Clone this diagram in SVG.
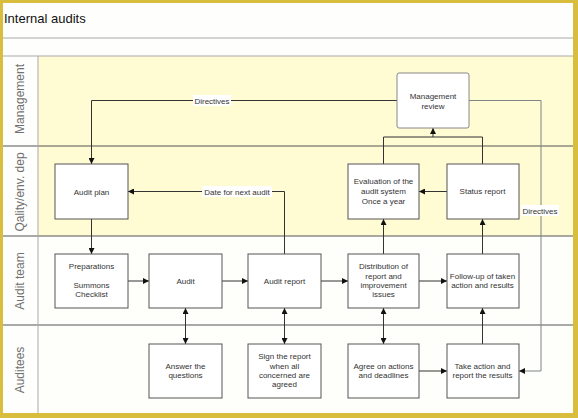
<svg xmlns="http://www.w3.org/2000/svg" width="578" height="418" viewBox="0 0 578 418">
<style>
.lanefill-y{fill:#fffbd3}
.lanefill-w{fill:#fefefa}
.sep{stroke:#555;stroke-width:1;fill:none}
.lsep{stroke:#aaa;stroke-width:1;fill:none}
.lanelabel{font-family:"Liberation Sans",Arial,sans-serif;font-size:12px;fill:#707070;text-anchor:middle}
.node rect{fill:#fff;stroke:#555;stroke-width:1}
.node text{font-family:"Liberation Sans",Arial,sans-serif;font-size:8px;fill:#333;text-anchor:middle}
.conn{stroke:#333;stroke-width:1;fill:none}
.conn2{stroke:#7d8585;stroke-width:1;fill:none}
.clabel{font-family:"Liberation Sans",Arial,sans-serif;font-size:8px;fill:#333;text-anchor:middle}
.lbg{fill:#fff}
</style>
<defs>
<marker id="arr" viewBox="0 0 6 6" refX="6" refY="3" markerWidth="6" markerHeight="6" markerUnits="userSpaceOnUse" orient="auto-start-reverse">
<path d="M0,0 L6,3 L0,6 z" fill="#111"/>
</marker>
</defs>
<rect x="0" y="0" width="578" height="418" fill="#d9bd3c"/>
<rect x="3" y="3" width="570" height="410" fill="#fefefc"/>
<text x="4" y="22.5" font-family="'Liberation Sans',Arial,sans-serif" font-size="13" fill="#111">Internal audits</text>
<g id="lanes">
<rect class="lanefill-y" x="38" y="56" width="535" height="90"/>
<rect class="lanefill-y" x="38" y="146" width="535" height="90"/>
<rect class="lanefill-w" x="38" y="236" width="535" height="89"/>
<rect class="lanefill-w" x="38" y="325" width="535" height="88"/>
<line class="lsep" x1="3" y1="38" x2="573" y2="38"/>
<line class="lsep" x1="3" y1="56" x2="573" y2="56"/>
<line class="sep" x1="3" y1="146" x2="573" y2="146"/>
<line class="sep" x1="3" y1="236" x2="573" y2="236"/>
<line class="sep" x1="3" y1="325" x2="573" y2="325"/>
<line class="lsep" x1="38" y1="56" x2="38" y2="413"/>
<text class="lanelabel" transform="translate(24,99) rotate(-90)">Management</text>
<text class="lanelabel" transform="translate(24,192) rotate(-90)">Qality/env. dep</text>
<text class="lanelabel" transform="translate(24,281) rotate(-90)">Audit team</text>
<text class="lanelabel" transform="translate(24,370) rotate(-90)">Auditees</text>
</g>
<g id="connectors">
<path class="conn" d="M397,100.5 H91.5 V164" marker-end="url(#arr)"/>
<path class="conn2" d="M469,100.5 H541 V371 H519" marker-end="url(#arr)"/>
<path class="conn" d="M383.5,164 V137 H482.5 V164"/>
<path class="conn" d="M433,137 V128" marker-end="url(#arr)"/>
<path class="conn" d="M447,191.5 H419" marker-end="url(#arr)"/>
<path class="conn" d="M284.5,254 V191.5 H128" marker-end="url(#arr)"/>
<path class="conn" d="M91.5,219 V254" marker-end="url(#arr)"/>
<path class="conn" d="M128,281 H149" marker-end="url(#arr)"/>
<path class="conn" d="M222,281 H248" marker-end="url(#arr)"/>
<path class="conn" d="M321,281 H348" marker-end="url(#arr)"/>
<path class="conn" d="M419,281 H447" marker-end="url(#arr)"/>
<path class="conn" d="M383.5,254 V219" marker-end="url(#arr)"/>
<path class="conn" d="M482.5,254 V219" marker-end="url(#arr)"/>
<path class="conn" d="M185.5,308 V344" marker-start="url(#arr)" marker-end="url(#arr)"/>
<path class="conn" d="M284.5,308 V344" marker-start="url(#arr)" marker-end="url(#arr)"/>
<path class="conn" d="M383.5,308 V344" marker-start="url(#arr)" marker-end="url(#arr)"/>
<path class="conn" d="M419,371 H447" marker-end="url(#arr)"/>
<path class="conn" d="M482.5,344 V308" marker-end="url(#arr)"/>
<rect class="lbg" x="193" y="95" width="38" height="11"/>
<text class="clabel" x="212" y="103.5">Directives</text>
<rect class="lbg" x="521" y="205" width="38" height="11"/>
<text class="clabel" x="540" y="213.5">Directives</text>
<rect class="lbg" x="202" y="186" width="70" height="11"/>
<text class="clabel" x="237" y="194.5">Date for next audit</text>
</g>
<g id="n-management-review" class="node">
<rect x="397" y="73" width="72" height="55" rx="2" style="stroke:#888"/>
<text x="433" y="99">Management</text>
<text x="433" y="109">review</text>
</g>
<g id="n-audit-plan" class="node">
<rect x="55" y="164" width="73" height="55"/>
<text x="91.5" y="194.5">Audit plan</text>
</g>
<g id="n-evaluation" class="node">
<rect x="348" y="164" width="71" height="55"/>
<text x="383.5" y="183.5">Evaluation of the</text>
<text x="383.5" y="193.5">audit system</text>
<text x="383.5" y="203.5">Once a year</text>
</g>
<g id="n-status-report" class="node">
<rect x="447" y="164" width="72" height="55"/>
<text x="482.5" y="193.5">Status report</text>
</g>
<g id="n-preparations" class="node">
<rect x="55" y="254" width="73" height="54"/>
<text x="91.5" y="269">Preparations</text>
<text x="91.5" y="288">Summons</text>
<text x="91.5" y="297">Checklist</text>
</g>
<g id="n-audit" class="node">
<rect x="149" y="254" width="73" height="54"/>
<text x="185.5" y="283.5">Audit</text>
</g>
<g id="n-audit-report" class="node">
<rect x="248" y="254" width="73" height="54"/>
<text x="284.5" y="283.5">Audit report</text>
</g>
<g id="n-distribution" class="node">
<rect x="348" y="254" width="71" height="54"/>
<text x="383.5" y="269">Distribution of</text>
<text x="383.5" y="278.5">report and</text>
<text x="383.5" y="288">improvement</text>
<text x="383.5" y="297">issues</text>
</g>
<g id="n-follow-up" class="node">
<rect x="447" y="254" width="72" height="54"/>
<text x="482.5" y="278.5">Follow-up of taken</text>
<text x="482.5" y="288">action and results</text>
</g>
<g id="n-answer" class="node">
<rect x="149" y="344" width="73" height="54"/>
<text x="185.5" y="369">Answer  the</text>
<text x="185.5" y="378">questions</text>
</g>
<g id="n-sign" class="node">
<rect x="248" y="344" width="73" height="54"/>
<text x="284.5" y="359">Sign the report</text>
<text x="284.5" y="368.5">when all</text>
<text x="284.5" y="378">concerned are</text>
<text x="284.5" y="387">agreed</text>
</g>
<g id="n-agree" class="node">
<rect x="348" y="344" width="71" height="54"/>
<text x="383.5" y="369">Agree on actions</text>
<text x="383.5" y="378">and deadlines</text>
</g>
<g id="n-take-action" class="node">
<rect x="447" y="344" width="72" height="54"/>
<text x="482.5" y="369">Take action and</text>
<text x="482.5" y="378">report the results</text>
</g>
</svg>
